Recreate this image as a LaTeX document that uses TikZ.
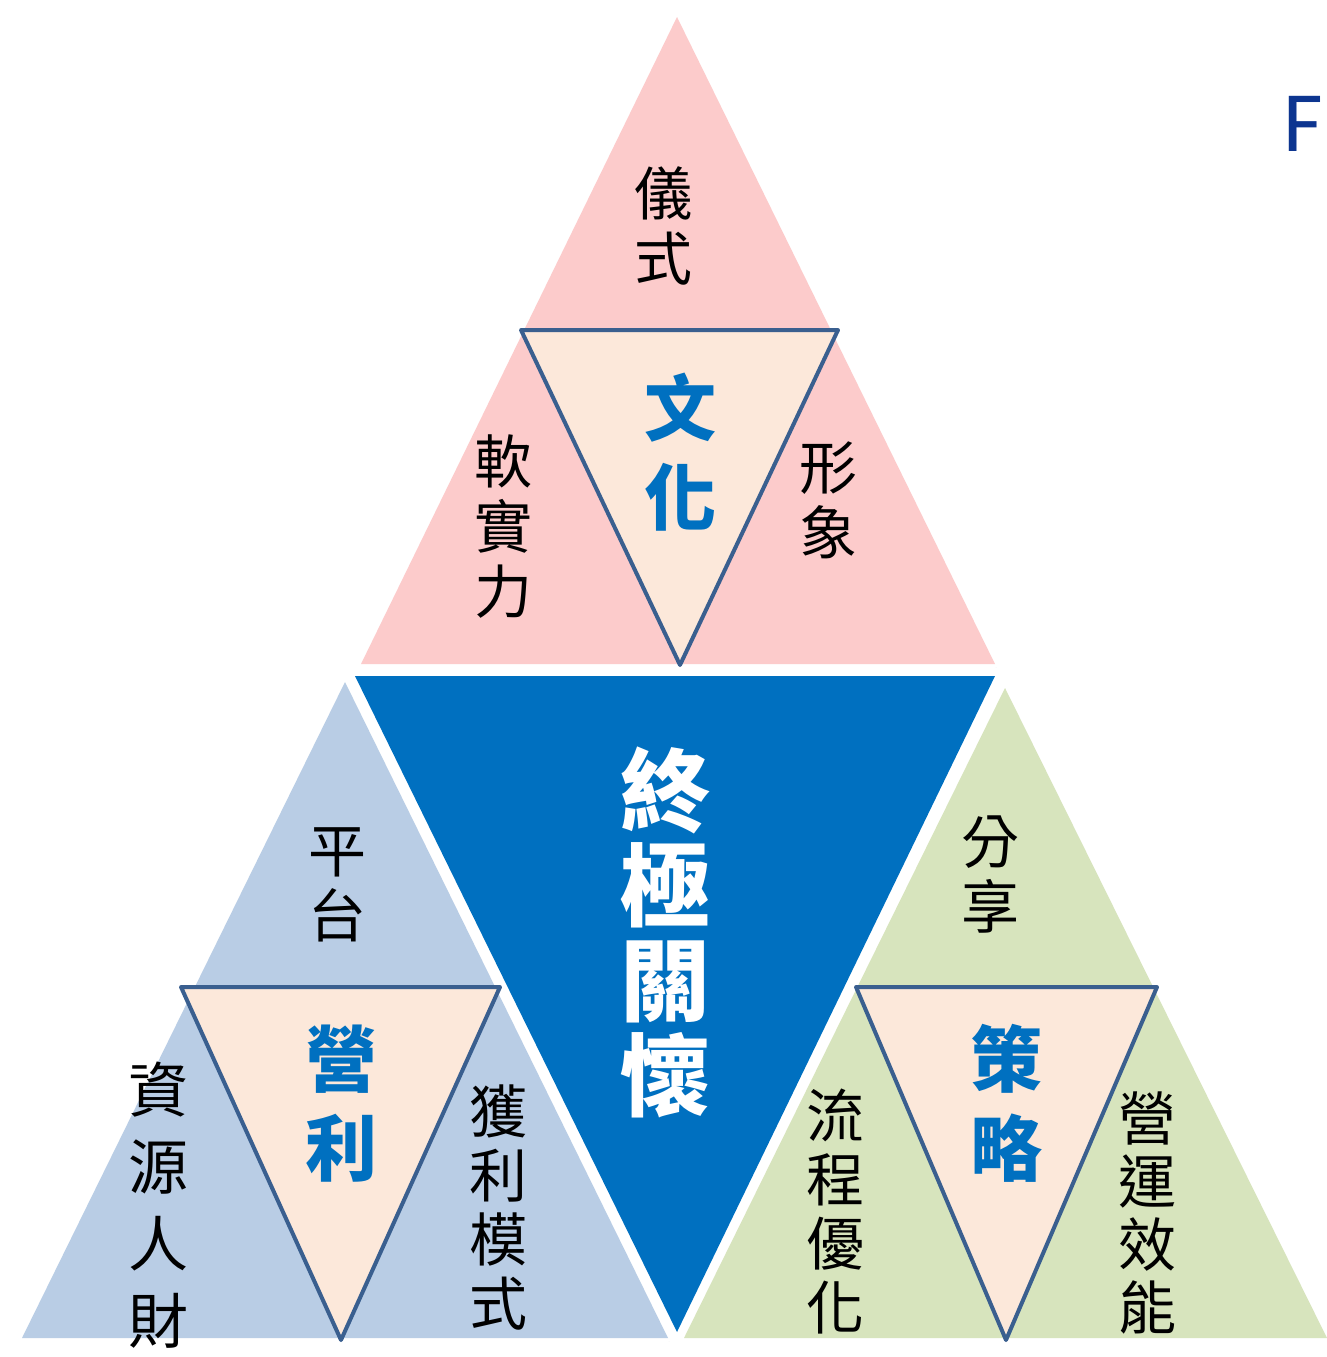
\documentclass[tikz,border=0pt]{standalone}
\usepackage{fontspec}
\usetikzlibrary{shadows}
\newfontfamily\cjk{Noto Sans CJK TC}
\setsansfont{Carlito}
\definecolor{pinkfill}{HTML}{FCCBCB}
\definecolor{peach}{HTML}{FCE8DA}
\definecolor{coreblue}{HTML}{0070C0}
\definecolor{lightblue}{HTML}{B9CDE5}
\definecolor{lightgreen}{HTML}{D7E4BD}
\definecolor{edgeblue}{HTML}{3A5F8F}
\definecolor{fblue}{HTML}{0D3590}
\tikzset{
  rim/.style={draw=white, fill=white, line width=8pt, line join=round,
    drop shadow={shadow xshift=1.5pt, shadow yshift=-3pt, opacity=0.22, fill=black}},
  inner/.style={fill=peach, draw=edgeblue, line width=4pt, line join=round},
  plain/.style={inner sep=0pt, align=center, font=\cjk\fontsize{58}{65}\selectfont},
  bluebold/.style={inner sep=0pt, align=center, text=coreblue, font=\cjk\bfseries\fontsize{72}{89}\selectfont},
  core/.style={inner sep=0pt, align=center, text=white, font=\cjk\bfseries\fontsize{90}{95}\selectfont}
}
\begin{document}
\begin{tikzpicture}[x=1pt,y=-1pt]
\useasboundingbox (0,0) rectangle (1327,1357);
% outer triangles: white rim first, then colour fill
\path[rim] (677,17) -- (995,664) -- (361,664) -- cycle;
\fill[pinkfill] (677,17) -- (995,664) -- (361,664) -- cycle;
\path[rim] (345,682) -- (668,1338) -- (22,1338) -- cycle;
\fill[lightblue] (345,682) -- (668,1338) -- (22,1338) -- cycle;
\path[rim] (1005,688) -- (1327,1338) -- (684,1338) -- cycle;
\fill[lightgreen] (1005,688) -- (1327,1338) -- (684,1338) -- cycle;
\path[rim] (355,676) -- (995,676) -- (677,1332) -- cycle;
\fill[coreblue] (355,676) -- (995,676) -- (677,1332) -- cycle;
% inner triangles
\filldraw[inner] (521,330) -- (838,330) -- (680,665) -- cycle;
\filldraw[inner] (181,987) -- (500,987) -- (341,1340) -- cycle;
\filldraw[inner] (856,987) -- (1157,987) -- (1006,1340) -- cycle;
% texts
\node[plain] (yishi) at (663,226) {儀\\式};
\node[bluebold] (wenhua) at (680,452) {文\\化};
\node[plain] (ruan) at (503,527) {軟\\實\\力};
\node[plain] (xing) at (828,500) {形\\象};
\node[core] (zhongji) at (665,932) {終\\極\\關\\懷};
\node[plain] (pingtai) at (337,885) {平\\台};
\node[bluebold] (yingli) at (341,1104) {營\\利};
\node[plain, font=\cjk\fontsize{60}{77}\selectfont] (ziyuan) at (158,1205) {資\\源\\人\\財};
\node[plain, font=\cjk\fontsize{58}{64}\selectfont] (huoli) at (498,1208) {獲\\利\\模\\式};
\node[plain] (fenxiang) at (990,874) {分\\享};
\node[bluebold] (celue) at (1006,1103) {策\\略};
\node[plain, font=\cjk\fontsize{58}{64}\selectfont] (liucheng) at (835,1212) {流\\程\\優\\化};
\node[plain, font=\cjk\fontsize{58}{63}\selectfont] (yingyun) at (1147,1213) {營\\運\\效\\能};
\node[inner sep=0pt, text=fblue, font=\sffamily\fontsize{86}{86}\selectfont, anchor=west] (F) at (1283,124) {F};
\end{tikzpicture}
\end{document}
